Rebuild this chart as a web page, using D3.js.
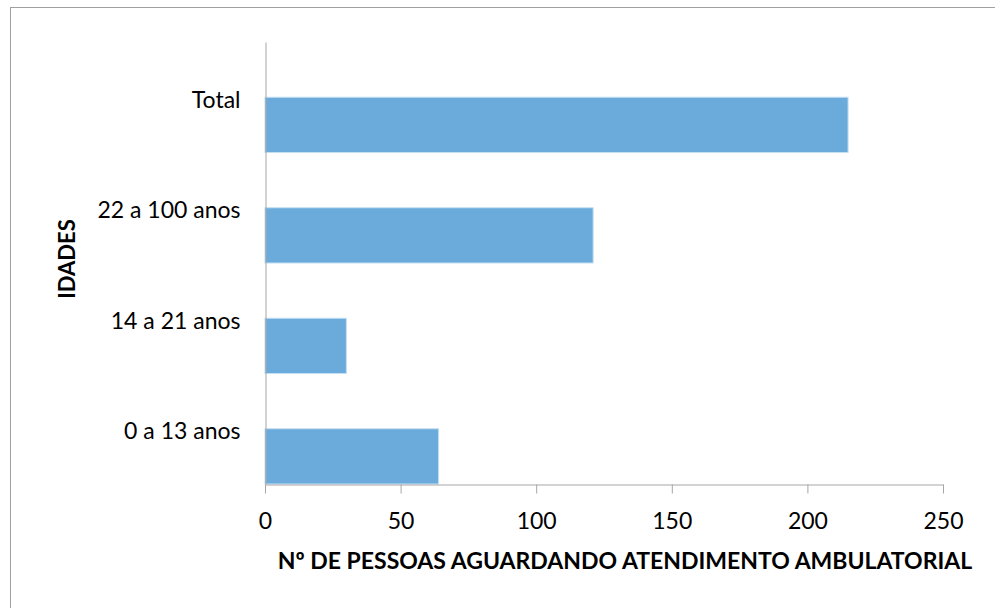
<!DOCTYPE html>
<html><head><meta charset="utf-8">
<script src="https://cdn.jsdelivr.net/npm/d3@7"></script>
<style>body{margin:0;background:#fff}svg{display:block}</style>
</head><body>
<script>
const categories = ["0 a 13 anos", "14 a 21 anos", "22 a 100 anos", "Total"];
const values = [64, 30, 121, 215];
const xTicks = [0, 50, 100, 150, 200, 250];
const xTitle = "Nº DE PESSOAS AGUARDANDO ATENDIMENTO AMBULATORIAL";
const yTitle = "IDADES";

const W = 995, H = 608;
const m = {left: 265, right: 52, top: 42, bottom: 124};
const svg = d3.select("body").append("svg").attr("width", W).attr("height", H);
const font = "Lato, 'Open Sans', sans-serif";

svg.append("rect").attr("x", 10.5).attr("y", 7.5).attr("width", W - 10).attr("height", H - 7)
  .attr("fill", "none").attr("stroke", "#a0a0a0");

const x = d3.scaleLinear().domain([0, 250]).range([m.left, W - m.right]);
const y = d3.scaleBand().domain(categories.slice().reverse()).range([m.top, H - m.bottom]).padding(0);

svg.selectAll("rect.bar").data(categories).join("rect").attr("class", "bar")
  .attr("x", x(0)).attr("y", d => y(d) + y.bandwidth() / 2)
  .attr("width", (d, i) => x(values[i]) - x(0)).attr("height", y.bandwidth() / 2)
  .attr("fill", "#6aabdb").attr("stroke", "#c4def2").attr("stroke-width", 1);

const xa = svg.append("g").attr("transform", `translate(0,${H - m.bottom + 0.5})`)
  .call(d3.axisBottom(x).tickValues(xTicks).tickSize(9).tickSizeOuter(0).tickPadding(19));
xa.select(".domain").attr("stroke", "#a6a6a6");
xa.selectAll(".tick line").attr("stroke", "#a6a6a6");
xa.selectAll("text").attr("font-family", font).attr("font-size", 23).attr("fill", "#000");

const ya = svg.append("g").attr("transform", `translate(${m.left + 0.5},0)`)
  .call(d3.axisLeft(y).tickSize(0).tickPadding(25));
ya.select(".domain").attr("stroke", "#a6a6a6");
ya.selectAll("text").attr("font-family", font).attr("font-size", 23).attr("fill", "#000").attr("dy", "0.45em");

svg.append("text").attr("x", 625).attr("y", 569).attr("text-anchor", "middle")
  .attr("font-family", font).attr("font-size", 23).attr("font-weight", "bold").attr("fill", "#000").text(xTitle);
svg.append("text").attr("transform", "translate(75,259) rotate(-90)").attr("text-anchor", "middle")
  .attr("font-family", font).attr("font-size", 22).attr("font-weight", "bold").attr("fill", "#000").text(yTitle);
</script>
</body></html>
